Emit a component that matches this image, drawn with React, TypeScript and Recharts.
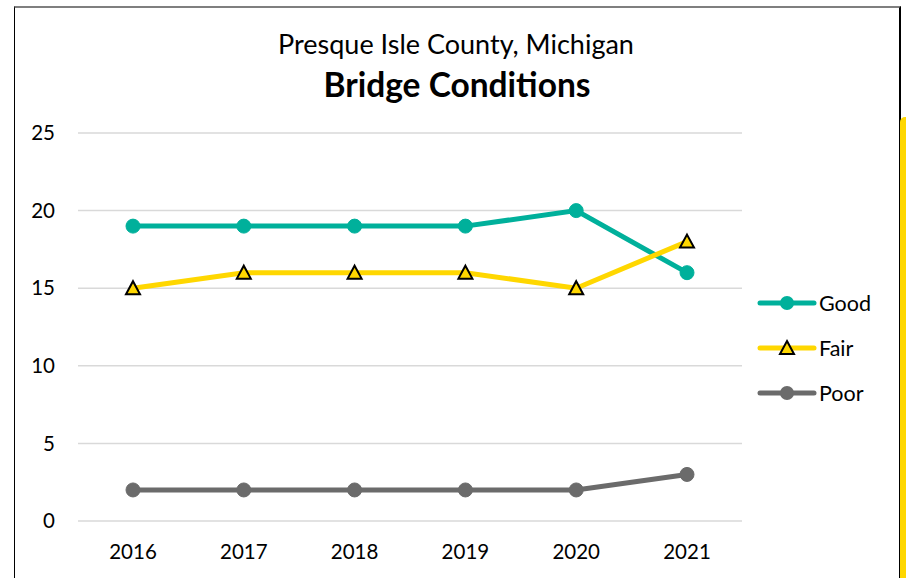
import React from 'react';
import { LineChart, Line, XAxis, YAxis, CartesianGrid } from 'recharts';

const years = ['2016', '2017', '2018', '2019', '2020', '2021'];
const good = [19, 19, 19, 19, 20, 16];
const fair = [15, 16, 16, 16, 15, 18];
const poor = [2, 2, 2, 2, 2, 3];
const yTicks = [0, 5, 10, 15, 20, 25];
const seriesNames = ['Good', 'Fair', 'Poor'];

const data = years.map((y, i) => ({ year: y, Good: good[i], Fair: fair[i], Poor: poor[i] }));

const FONT = 'Lato, "Open Sans", sans-serif';
const TEAL = '#00B09B';
const GOLD = '#FFD700';
const GRAY = '#6B6B6B';
const colors: Record<string, string> = { Good: TEAL, Fair: GOLD, Poor: GRAY };

const Triangle = (props: any) => {
  const { cx, cy } = props;
  if (cx == null || cy == null) return null;
  const s = 7;
  return (
    <path
      d={`M${cx},${cy - s} L${cx + s},${cy + s * 0.85} L${cx - s},${cy + s * 0.85} Z`}
      fill={GOLD}
      stroke="#000"
      strokeWidth={2}
      strokeLinejoin="miter"
    />
  );
};

const LegendBox = () => (
  <div style={{ position: 'absolute', left: 757, top: 280 }}>
    {seriesNames.map((name) => (
      <div key={name} style={{ display: 'flex', alignItems: 'center', height: 45 }}>
        <svg width={60} height={20}>
          <line x1={3} y1={10} x2={57} y2={10} stroke={colors[name]} strokeWidth={5} strokeLinecap="round" />
          {name === 'Fair' ? <Triangle cx={30} cy={10} /> : <circle cx={30} cy={10} r={7} fill={colors[name]} />}
        </svg>
        <span style={{ fontFamily: FONT, fontSize: 21.5, color: '#000', marginLeft: 2 }}>{name}</span>
      </div>
    ))}
  </div>
);

export default function App() {
  return (
    <div style={{ position: 'absolute', left: 0, top: 0, width: 906, height: 578, overflow: 'hidden', background: '#fff' }}>
      <div
        style={{
          position: 'absolute',
          left: 14,
          top: 6,
          width: 884,
          height: 600,
          borderTop: '2px solid #7f7f7f',
          borderLeft: '1px solid #000',
          borderRight: '2px solid #000',
        }}
      />
      <div
        style={{
          position: 'absolute',
          left: 900,
          top: 117,
          width: 10,
          height: 500,
          background: GOLD,
          borderTopLeftRadius: 5,
        }}
      />
      <div style={{ position: 'absolute', left: 0, top: 0 }}>
        <LineChart width={906} height={578} data={data} margin={{ top: 133, right: 164, bottom: 27, left: 18 }}>
          <text x={456} y={54} textAnchor="middle" style={{ fontFamily: FONT, fontSize: 27, fill: '#000' }}>
            Presque Isle County, Michigan
          </text>
          <text x={457} y={97} textAnchor="middle" style={{ fontFamily: FONT, fontSize: 33.5, fontWeight: 700, fill: '#000' }}>
            Bridge Conditions
          </text>
          <CartesianGrid vertical={false} stroke="#d9d9d9" strokeWidth={1.5} />
          <XAxis
            dataKey="year"
            height={30}
            padding={{ left: 55, right: 55 }}
            axisLine={false}
            tickLine={false}
            tickMargin={17}
            tick={{ fontFamily: FONT, fontSize: 20.5, fill: '#000' }}
          />
          <YAxis
            width={60}
            domain={[0, 25]}
            ticks={yTicks}
            axisLine={false}
            tickLine={false}
            tickMargin={17}
            tick={{ fontFamily: FONT, fontSize: 20.5, fill: '#000' }}
          />
          <Line
            dataKey="Good"
            stroke={TEAL}
            strokeWidth={5}
            dot={{ r: 7, fill: TEAL, stroke: TEAL, strokeWidth: 1 }}
            activeDot={false}
            isAnimationActive={false}
          />
          <Line
            dataKey="Fair"
            stroke={GOLD}
            strokeWidth={5}
            dot={<Triangle />}
            activeDot={false}
            isAnimationActive={false}
          />
          <Line
            dataKey="Poor"
            stroke={GRAY}
            strokeWidth={5}
            dot={{ r: 7, fill: GRAY, stroke: GRAY, strokeWidth: 1 }}
            activeDot={false}
            isAnimationActive={false}
          />
        </LineChart>
      </div>
      <LegendBox />
    </div>
  );
}
